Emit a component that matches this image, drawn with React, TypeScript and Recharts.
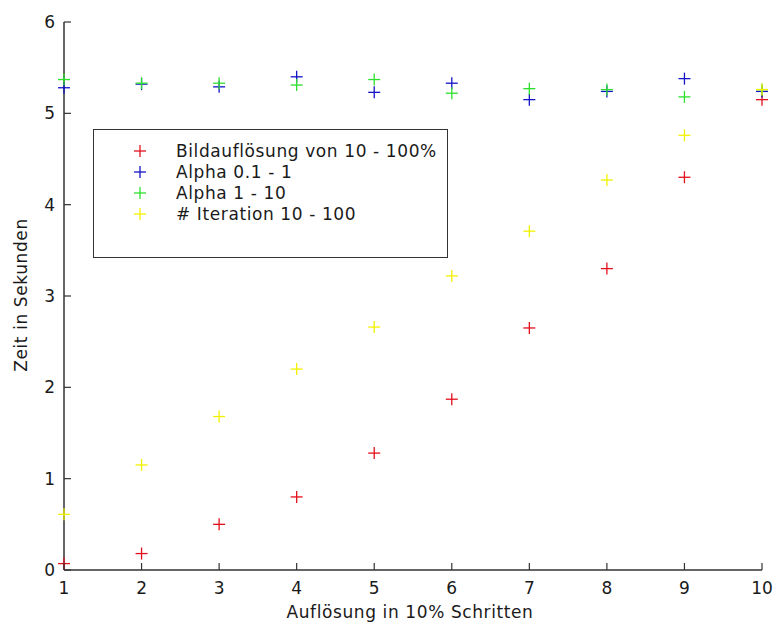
import { Scatter, ScatterChart, XAxis, YAxis } from 'recharts'

// Auflösungsschritte (x)
const schritte = [1, 2, 3, 4, 5, 6, 7, 8, 9, 10]

// Laufzeiten in Sekunden
const bildaufloesung = [0.07, 0.18, 0.5, 0.8, 1.28, 1.87, 2.65, 3.3, 4.3, 5.15]
const alphaKlein = [5.28, 5.32, 5.29, 5.4, 5.23, 5.33, 5.15, 5.24, 5.38, 5.24]
const alphaGross = [5.37, 5.33, 5.33, 5.31, 5.37, 5.22, 5.27, 5.26, 5.18, 5.26]
const iterationen = [0.61, 1.15, 1.68, 2.2, 2.66, 3.22, 3.71, 4.27, 4.76, 5.26]

const xTicks = [1, 2, 3, 4, 5, 6, 7, 8, 9, 10]
const yTicks = [0, 1, 2, 3, 4, 5, 6]

const serien = [
  { name: 'Bildauflösung von 10 - 100%', werte: bildaufloesung, farbe: '#e3101c' },
  { name: 'Alpha 0.1 - 1', werte: alphaKlein, farbe: '#1414c8' },
  { name: 'Alpha 1 - 10', werte: alphaGross, farbe: '#2ee02e' },
  { name: '# Iteration 10 - 100', werte: iterationen, farbe: '#f2f200' },
]

const FONT = '"DejaVu Sans", sans-serif'
const FS = 17
const LS = 0.6
const TEXT = '#1a1a1a'
const AXIS = '#333'

const plus = (farbe) => (props) => {
  const { cx, cy } = props
  if (cx == null || cy == null) return null
  return (
    <g stroke={farbe} strokeWidth={1.3}>
      <line x1={cx - 6} y1={cy} x2={cx + 6} y2={cy} />
      <line x1={cx} y1={cy - 6} x2={cx} y2={cy + 6} />
    </g>
  )
}

const XTick = ({ x, y, payload }) => (
  <g>
    <line x1={x} y1={y} x2={x} y2={y - 7} stroke={AXIS} strokeWidth={1.2} />
    <text x={x} y={y + 18} textAnchor="middle" dominantBaseline="central" fontFamily={FONT} fontSize={FS} fill={TEXT}>
      {payload.value}
    </text>
  </g>
)

const YTick = ({ x, y, payload }) => (
  <g>
    <line x1={x} y1={y} x2={x + 7} y2={y} stroke={AXIS} strokeWidth={1.2} />
    <text x={x - 9} y={y} textAnchor="end" dominantBaseline="central" fontFamily={FONT} fontSize={FS} fill={TEXT}>
      {payload.value}
    </text>
  </g>
)

const Legende = () => (
  <div
    style={{
      position: 'absolute',
      left: 93,
      top: 129,
      width: 353,
      height: 127,
      border: '1px solid #333',
      background: '#fff',
      fontFamily: FONT,
      fontSize: FS,
      letterSpacing: LS,
      color: TEXT,
    }}
  >
    {serien.map((s, i) => (
      <div key={s.name} style={{ position: 'absolute', left: 0, top: 10 + i * 21, height: 22, width: '100%' }}>
        <svg width={20} height={22} style={{ position: 'absolute', left: 36, top: 0 }}>
          <line x1={4} y1={11} x2={16} y2={11} stroke={s.farbe} strokeWidth={1.3} />
          <line x1={10} y1={5} x2={10} y2={17} stroke={s.farbe} strokeWidth={1.3} />
        </svg>
        <span style={{ position: 'absolute', left: 82, top: 0, lineHeight: '22px', whiteSpace: 'nowrap' }}>
          {s.name}
        </span>
      </div>
    ))}
  </div>
)

export default function App() {
  return (
    <div style={{ position: 'absolute', left: 0, top: 0, width: 775, height: 628, background: '#fff' }}>
      <ScatterChart width={775} height={628} margin={{ top: 22, right: 13, bottom: 0, left: 0 }}>
        <XAxis
          type="number"
          dataKey="x"
          domain={[1, 10]}
          ticks={xTicks}
          interval={0}
          height={58}
          tickSize={0}
          tickMargin={0}
          tickLine={false}
          axisLine={{ stroke: AXIS, strokeWidth: 1.5 }}
          tick={XTick}
          label={{
            content: ({ viewBox }) => (
              <text
                x={viewBox.x + viewBox.width / 2 - 3}
                y={viewBox.y + 42}
                textAnchor="middle"
                dominantBaseline="central"
                fontFamily={FONT}
                fontSize={FS}
                letterSpacing={LS}
                fill={TEXT}
              >
                Auflösung in 10% Schritten
              </text>
            ),
          }}
        />
        <YAxis
          type="number"
          dataKey="y"
          domain={[0, 6]}
          ticks={yTicks}
          interval={0}
          width={64}
          tickSize={0}
          tickMargin={0}
          tickLine={false}
          axisLine={{ stroke: AXIS, strokeWidth: 1.5 }}
          tick={YTick}
          label={{
            content: ({ viewBox }) => {
              const cx = viewBox.x + 21
              const cy = 295
              return (
                <text
                  x={cx}
                  y={cy}
                  transform={`rotate(-90, ${cx}, ${cy})`}
                  textAnchor="middle"
                  dominantBaseline="central"
                  fontFamily={FONT}
                  fontSize={FS}
                  letterSpacing={LS}
                  fill={TEXT}
                >
                  Zeit in Sekunden
                </text>
              )
            },
          }}
        />
        {serien.map((s) => (
          <Scatter
            key={s.name}
            name={s.name}
            data={schritte.map((x, i) => ({ x, y: s.werte[i] }))}
            fill={s.farbe}
            shape={plus(s.farbe)}
            isAnimationActive={false}
          />
        ))}
      </ScatterChart>
      <Legende />
    </div>
  )
}
